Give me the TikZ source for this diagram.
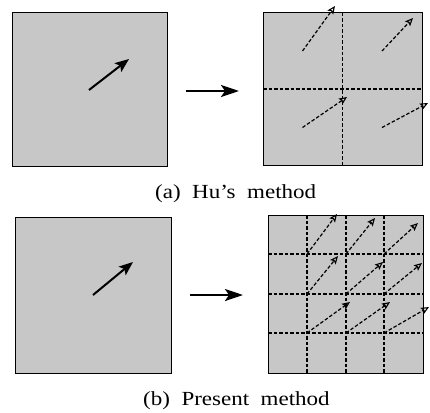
\documentclass[tikz,border=0pt]{standalone}
\usepackage{fontspec}
\setmainfont{Liberation Serif}
\usetikzlibrary{arrows.meta}
\begin{document}
\begin{tikzpicture}[x=1pt,y=-1pt,
  panel/.style={draw=black,line width=1pt,fill=black!22,inner sep=0pt,outer sep=0pt},
  gridline/.style={draw=black,line width=1.2pt,dash pattern=on 3.5pt off 2pt},
  vec/.style={line width=2pt,-{Stealth[length=14pt,width=11pt,inset=3pt]}},
  bigarrow/.style={line width=2.4pt,-{Stealth[length=18pt,width=12pt,inset=4pt]}},
  dvec/.style={line width=1.2pt,dash pattern=on 3.5pt off 2pt,-{Stealth[open,length=8pt,width=7pt,inset=1.5pt,line width=1.1pt]}},
  captext/.style={font=\fontsize{20}{22}\selectfont,inner sep=0pt,anchor=base west}]
\useasboundingbox (0,0) rectangle (430,412);
% (a) panels
\node[panel,minimum width=155pt,minimum height=153pt] (A) at (89.5,89.5) {};
\node[panel,minimum width=159pt,minimum height=152pt] (B) at (342.5,89) {};
\coordinate (a0) at (89,90); \coordinate (a1) at (129,59);
\draw[vec] (a0) -- (a1);
\coordinate (ma0) at (186,91); \coordinate (ma1) at (239,91);
\draw[bigarrow] (ma0) -- (ma1);
\draw[gridline] (B.north) -- (B.south);
\draw[gridline] (B.west) -- (B.east);
\foreach \n/\sx/\sy/\ex/\ey in {1/302.5/51/335/6, 2/382/51/413/18, 3/302.5/127.5/347/97, 4/382/127.5/428/103}{
  \coordinate (bs\n) at (\sx,\sy); \coordinate (be\n) at (\ex,\ey);
  \draw[dvec] (bs\n) -- (be\n);
}
\node[captext] (capa) at (155,198) {\scalebox{1.15}[1]{(a)\hspace{0.5em}Hu's\hspace{0.5em}method}};
% (b) panels
\node[panel,minimum width=156pt,minimum height=156pt] (C) at (93,295) {};
\node[panel,minimum width=155pt,minimum height=158pt] (D) at (345.5,294) {};
\coordinate (c0) at (93,295); \coordinate (c1) at (133,262);
\draw[vec] (c0) -- (c1);
\coordinate (mb0) at (190,295); \coordinate (mb1) at (243,295);
\draw[bigarrow] (mb0) -- (mb1);
\foreach \x in {307,346,384}{ \draw[gridline] (\x,215) -- (\x,373); }
\foreach \y in {254,294,333}{ \draw[gridline] (268,\y) -- (423,\y); }
\foreach \n/\sx/\sy/\ex/\ey in {
  1/307/254/337/214, 2/346/254/375/218, 3/384/254/418/223,
  4/307/294/338/256, 5/346/294/383/262, 6/384/294/422/263,
  7/307/333/350/302, 8/346/333/390/302, 9/384/333/429/307}{
  \coordinate (ds\n) at (\sx,\sy); \coordinate (de\n) at (\ex,\ey);
  \draw[dvec] (ds\n) -- (de\n);
}
\node[captext] (capb) at (143,405) {\scalebox{1.15}[1]{(b)\hspace{0.5em}Present\hspace{0.5em}method}};
\end{tikzpicture}
\end{document}
